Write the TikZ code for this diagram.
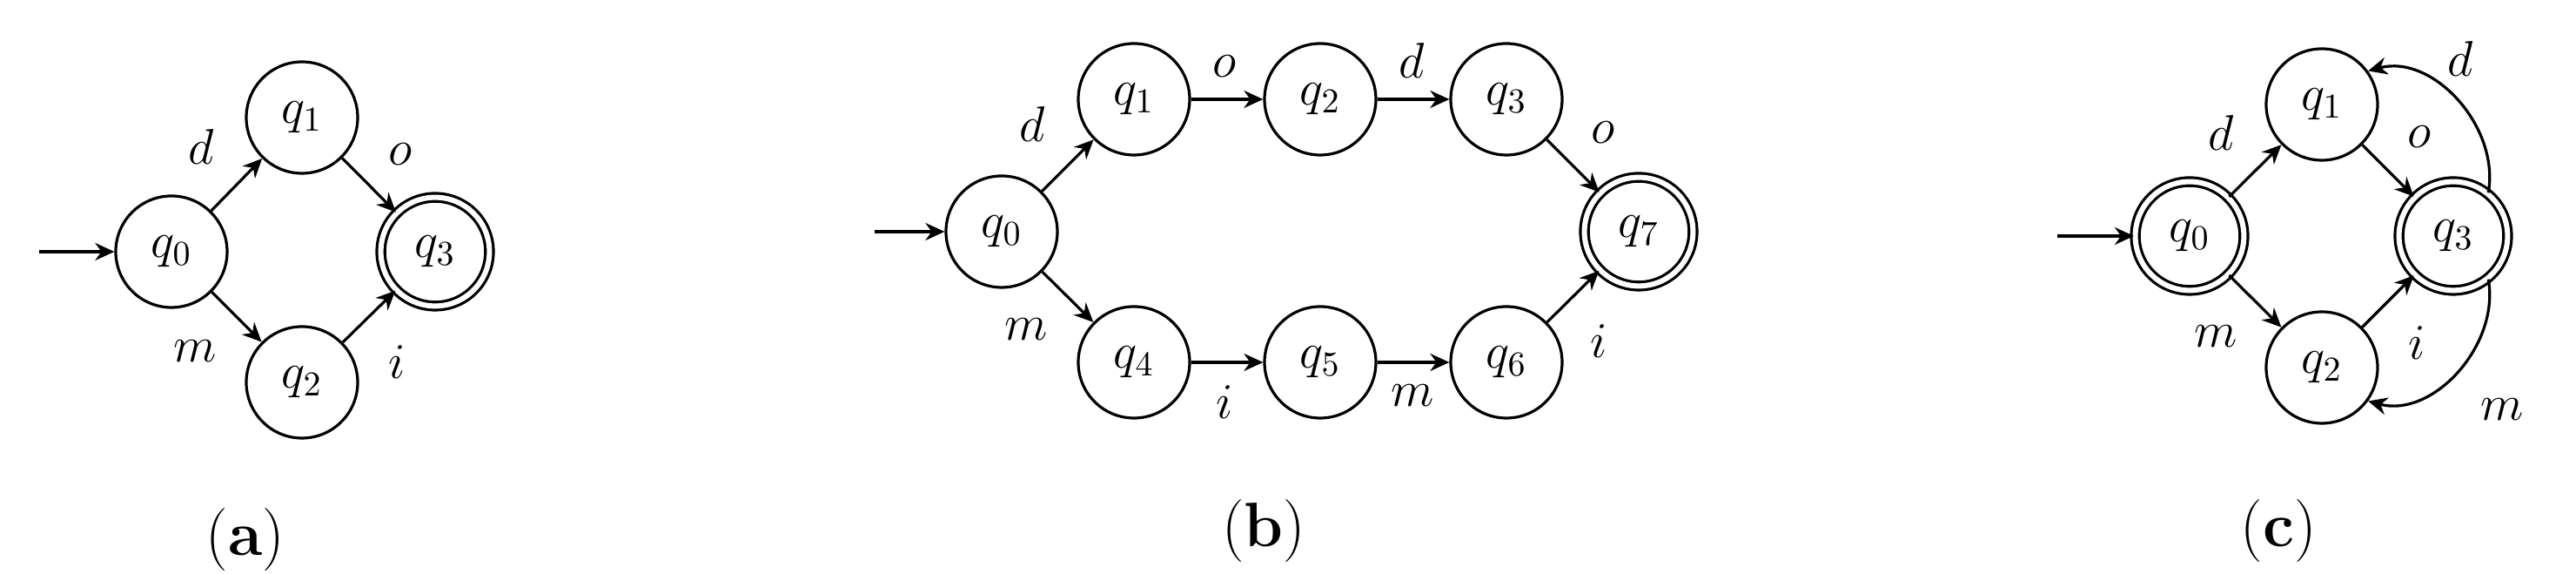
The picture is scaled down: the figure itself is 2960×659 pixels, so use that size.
\documentclass[tikz,border=0pt]{standalone}
\usetikzlibrary{arrows.meta}
\begin{document}
\begin{tikzpicture}[x=0.25pt,y=0.25pt,
  every node/.style={font=\fontsize{14}{17}\selectfont},
  st/.style={circle,draw,line width=0.8pt,minimum size=32pt,inner sep=0pt},
  acc/.style={circle,draw,line width=0.8pt,double,double distance=1.5pt,minimum size=31.2pt,inner sep=0pt},
  ar/.style={line width=0.8pt,-{Stealth[length=5.5pt,width=5pt]}},
  captext/.style={font=\fontsize{18}{22}\selectfont}]
\useasboundingbox (0,0) rectangle (2960,659);
% (a)
\node[st] (a0) at (197,370) {$q_0$};
\node[st] (a1) at (347,524) {$q_1$};
\node[st] (a2) at (347,220) {$q_2$};
\node[acc] (a3) at (500,370) {$q_3$};
\coordinate (as) at (45,370);
\draw[ar] (as) -- (a0);
\draw[ar] (a0) -- (a1);
\draw[ar] (a0) -- (a2);
\draw[ar] (a1) -- (a3);
\draw[ar] (a2) -- (a3);
\node (la1) at (231,490) {$d$};
\node (la2) at (460,482) {$o$};
\node (la3) at (224,256) {$m$};
\node (la4) at (456,243) {$i$};
\node[captext] (ca) at (282,39) {(\textbf{a})};
% (b)
\node[st] (b0) at (1151,393) {$q_0$};
\node[st] (b1) at (1303,545) {$q_1$};
\node[st] (b2) at (1517,545) {$q_2$};
\node[st] (b3) at (1731,545) {$q_3$};
\node[st] (b4) at (1303,243) {$q_4$};
\node[st] (b5) at (1517,243) {$q_5$};
\node[st] (b6) at (1731,243) {$q_6$};
\node[acc] (b7) at (1883,393) {$q_7$};
\coordinate (bs) at (1005,393);
\draw[ar] (bs) -- (b0);
\draw[ar] (b0) -- (b1);
\draw[ar] (b1) -- (b2);
\draw[ar] (b2) -- (b3);
\draw[ar] (b3) -- (b7);
\draw[ar] (b0) -- (b4);
\draw[ar] (b4) -- (b5);
\draw[ar] (b5) -- (b6);
\draw[ar] (b6) -- (b7);
\node (lb1) at (1186,516) {$d$};
\node (lb2) at (1179,281) {$m$};
\node (lb3) at (1407,583) {$o$};
\node (lb4) at (1622,589) {$d$};
\node (lb5) at (1842,507) {$o$};
\node (lb6) at (1407,197) {$i$};
\node (lb7) at (1623,205) {$m$};
\node (lb8) at (1837,267) {$i$};
\node[captext] (cb) at (1452,49) {(\textbf{b})};
% (c)
\node[acc] (c0) at (2516,388) {$q_0$};
\node[st] (c1) at (2668,539) {$q_1$};
\node[st] (c2) at (2668,237) {$q_2$};
\node[acc] (c3) at (2819,388) {$q_3$};
\coordinate (cs) at (2364,388);
\draw[ar] (cs) -- (c0);
\draw[ar] (c0) -- (c1);
\draw[ar] (c0) -- (c2);
\draw[ar] (c1) -- (c3);
\draw[ar] (c2) -- (c3);
\draw[ar] (c3.51) to[out=80,in=15] (c1.36);
\draw[ar] (c3.-51) to[out=-80,in=-15] (c2.-36);
\node (lc1) at (2552,506) {$d$};
\node (lc2) at (2546,273) {$m$};
\node (lc3) at (2780,502) {$o$};
\node (lc4) at (2777,265) {$i$};
\node (lc5) at (2827,591) {$d$};
\node (lc6) at (2875,189) {$m$};
\node[captext] (cc) at (2618,49) {(\textbf{c})};
\end{tikzpicture}
\end{document}
